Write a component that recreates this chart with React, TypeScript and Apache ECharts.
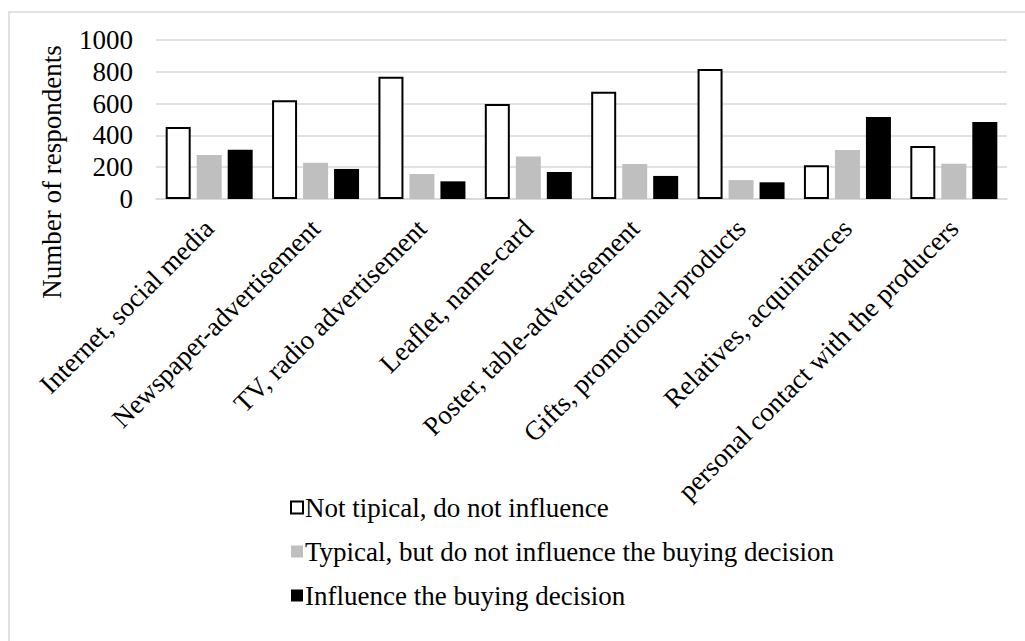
import React, { useEffect, useRef } from "react";
import * as echarts from "echarts";

const categories = [
  "Internet, social media",
  "Newspaper-advertisement",
  "TV, radio advertisement",
  "Leaflet, name-card",
  "Poster, table-advertisement",
  "Gifts, promotional-products",
  "Relatives, acquintances",
  "personal contact with the producers",
];
const seriesNames = [
  "Not tipical, do not influence",
  "Typical, but do not influence the buying decision",
  "Influence the buying decision",
];
const notTypical = [453, 621, 769, 597, 675, 818, 212, 333];
const typicalNoInfluence = [277, 228, 157, 268, 220, 119, 308, 222];
const influence = [310, 189, 111, 170, 145, 105, 516, 484];
const yTicks = [0, 200, 400, 600, 800, 1000];

const FONT = '"Liberation Serif", "Times New Roman", serif';
const FS = 27;

export default function App() {
  const ref = useRef<HTMLDivElement>(null);
  useEffect(() => {
    if (!ref.current) return;
    const chart = echarts.init(ref.current, undefined, { renderer: "svg" });
    const grid = "#d9d9d9";
    chart.setOption({
      animation: false,
      backgroundColor: "#ffffff",
      textStyle: { fontFamily: FONT, color: "#000" },
      grid: { left: 156, right: 18, top: 40, bottom: 442, containLabel: false },
      graphic: [
        {
          type: "rect",
          shape: { x: 9, y: 12, width: 1100, height: 1000 },
          style: { fill: "none", stroke: grid, lineWidth: 1.5 },
          silent: true,
          z: -1,
        },
        {
          type: "text",
          x: 52,
          y: 172,
          rotation: Math.PI / 2,
          style: {
            text: "Number of respondents",
            fontFamily: FONT,
            fontSize: FS,
            fill: "#000",
            align: "center",
            verticalAlign: "middle",
          },
        },
      ],
      legend: {
        orient: "vertical",
        left: 285,
        top: 489,
        itemWidth: 12,
        itemHeight: 12,
        itemGap: 17,
        icon: "rect",
        textStyle: { fontFamily: FONT, fontSize: FS, color: "#000", padding: [0, 0, 0, -3] },
        data: seriesNames,
      },
      xAxis: {
        type: "category",
        data: categories,
        axisTick: { show: false },
        axisLine: { lineStyle: { color: grid, width: 1.5 } },
        axisLabel: {
          interval: 0,
          rotate: 45,
          margin: 25,
          fontFamily: FONT,
          fontSize: FS,
          color: "#000",
        },
      },
      yAxis: {
        type: "value",
        min: 0,
        max: 1000,
        interval: 200,
        axisLine: { show: false },
        axisTick: { show: false },
        splitLine: { lineStyle: { color: grid, width: 1.5 } },
        axisLabel: {
          margin: 23,
          fontFamily: FONT,
          fontSize: FS,
          color: "#000",
          formatter: (v: number) => (yTicks.includes(v) ? String(v) : ""),
        },
      },
      series: [
        {
          name: seriesNames[0],
          type: "bar",
          data: notTypical,
          barWidth: 25,
          barGap: "24%",
          itemStyle: { color: "#ffffff", borderColor: "#000", borderWidth: 2 },
        },
        {
          name: seriesNames[1],
          type: "bar",
          data: typicalNoInfluence,
          barWidth: 25,
          barGap: "24%",
          itemStyle: { color: "#bfbfbf" },
        },
        {
          name: seriesNames[2],
          type: "bar",
          data: influence,
          barWidth: 25,
          barGap: "24%",
          itemStyle: { color: "#000000" },
        },
      ],
    });
    return () => chart.dispose();
  }, []);
  return (
    <div
      ref={ref}
      style={{ position: "absolute", left: 0, top: 0, width: 1025, height: 641 }}
    />
  );
}
